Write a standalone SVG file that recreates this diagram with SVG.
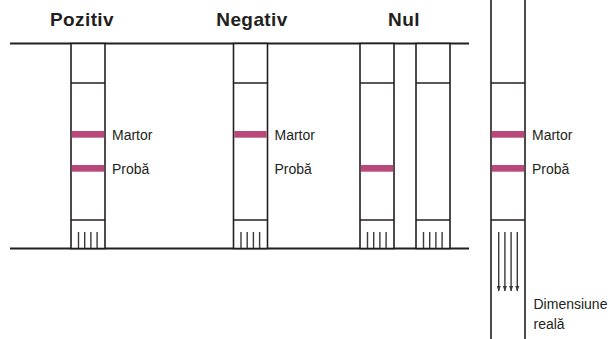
<svg xmlns="http://www.w3.org/2000/svg" width="616" height="339" viewBox="0 0 616 339">
<style>
  .head{font-family:"Liberation Sans",Arial,sans-serif;font-weight:bold;font-size:19px;fill:#231f20;text-anchor:middle;letter-spacing:0.4px}
  .lbl{font-family:"Liberation Sans",Arial,sans-serif;font-size:14px;fill:#231f20}
  .frame{stroke:#231f20;stroke-width:2;fill:none}
  .strip{stroke:#231f20;stroke-width:1.6;fill:#fff}
  .div{stroke:#231f20;stroke-width:1.6}
  .band{fill:#b8497a}
  .tick{stroke:#3a3a3a;stroke-width:1.4}
  .arr{stroke:#3a3a3a;stroke-width:1.4;marker-end:url(#ah)}
</style>
<defs>
  <marker id="ah" viewBox="0 0 6 4.4" refX="5.5" refY="2.2" markerWidth="6" markerHeight="4.4" markerUnits="userSpaceOnUse" orient="auto">
    <path d="M0,0 L6,2.2 L0,4.4 Z" fill="#3a3a3a"/>
  </marker>
</defs>
<rect width="616" height="339" fill="#fff"/>

<g id="headings">
  <text class="head" x="82" y="25.5">Pozitiv</text>
  <text class="head" x="252" y="25.5">Negativ</text>
  <text class="head" x="404" y="25.5">Nul</text>
</g>

<g id="frame">
  <line class="frame" x1="10" y1="43.5" x2="469" y2="43.5"/>
  <line class="frame" x1="10" y1="248.5" x2="469" y2="248.5"/>
</g>

<g id="strip-pozitiv">
  <rect class="strip" x="71" y="43.5" width="34" height="205"/>
  <line class="div" x1="71" y1="83" x2="105" y2="83"/>
  <line class="div" x1="71" y1="220" x2="105" y2="220"/>
  <rect class="band" x="71.8" y="131" width="32.4" height="6.7"/>
  <rect class="band" x="71.8" y="165" width="32.4" height="6.7"/>
  <line class="tick" x1="78.5" y1="232" x2="78.5" y2="248"/>
  <line class="tick" x1="84.7" y1="232" x2="84.7" y2="248"/>
  <line class="tick" x1="90.9" y1="232" x2="90.9" y2="248"/>
  <line class="tick" x1="97.1" y1="232" x2="97.1" y2="248"/>
  <text class="lbl" x="112" y="140">Martor</text>
  <text class="lbl" x="112" y="174">Probă</text>
</g>

<g id="strip-negativ">
  <rect class="strip" x="233.5" y="43.5" width="34" height="205"/>
  <line class="div" x1="233.5" y1="83" x2="267.5" y2="83"/>
  <line class="div" x1="233.5" y1="220" x2="267.5" y2="220"/>
  <rect class="band" x="234.3" y="131" width="32.4" height="6.7"/>
  <line class="tick" x1="241" y1="232" x2="241" y2="248"/>
  <line class="tick" x1="247.2" y1="232" x2="247.2" y2="248"/>
  <line class="tick" x1="253.4" y1="232" x2="253.4" y2="248"/>
  <line class="tick" x1="259.6" y1="232" x2="259.6" y2="248"/>
  <text class="lbl" x="274.5" y="140">Martor</text>
  <text class="lbl" x="274.5" y="174">Probă</text>
</g>

<g id="strip-nul-1">
  <rect class="strip" x="360" y="43.5" width="34" height="205"/>
  <line class="div" x1="360" y1="83" x2="394" y2="83"/>
  <line class="div" x1="360" y1="220" x2="394" y2="220"/>
  <rect class="band" x="360.8" y="165" width="32.4" height="6.7"/>
  <line class="tick" x1="367.5" y1="232" x2="367.5" y2="248"/>
  <line class="tick" x1="373.7" y1="232" x2="373.7" y2="248"/>
  <line class="tick" x1="379.9" y1="232" x2="379.9" y2="248"/>
  <line class="tick" x1="386.1" y1="232" x2="386.1" y2="248"/>
</g>

<g id="strip-nul-2">
  <rect class="strip" x="416" y="43.5" width="34" height="205"/>
  <line class="div" x1="416" y1="83" x2="450" y2="83"/>
  <line class="div" x1="416" y1="220" x2="450" y2="220"/>
  <line class="tick" x1="423.5" y1="232" x2="423.5" y2="248"/>
  <line class="tick" x1="429.7" y1="232" x2="429.7" y2="248"/>
  <line class="tick" x1="435.9" y1="232" x2="435.9" y2="248"/>
  <line class="tick" x1="442.1" y1="232" x2="442.1" y2="248"/>
</g>

<g id="strip-real">
  <rect class="strip" x="491" y="-2" width="34" height="345"/>
  <line class="div" x1="491" y1="83" x2="525" y2="83"/>
  <line class="div" x1="491" y1="220" x2="525" y2="220"/>
  <rect class="band" x="491.8" y="131" width="32.4" height="6.7"/>
  <rect class="band" x="491.8" y="165" width="32.4" height="6.7"/>
  <text class="lbl" x="532" y="140">Martor</text>
  <text class="lbl" x="532" y="174">Probă</text>
  <text class="lbl" x="533.5" y="308.5">Dimensiune</text>
  <text class="lbl" x="533.5" y="328.5">reală</text>
</g>

<g id="connectors">
  <line class="arr" x1="498.7" y1="232" x2="498.7" y2="291"/>
  <line class="arr" x1="504.9" y1="232" x2="504.9" y2="291"/>
  <line class="arr" x1="511.1" y1="232" x2="511.1" y2="291"/>
  <line class="arr" x1="517.3" y1="232" x2="517.3" y2="291"/>
</g>
</svg>
